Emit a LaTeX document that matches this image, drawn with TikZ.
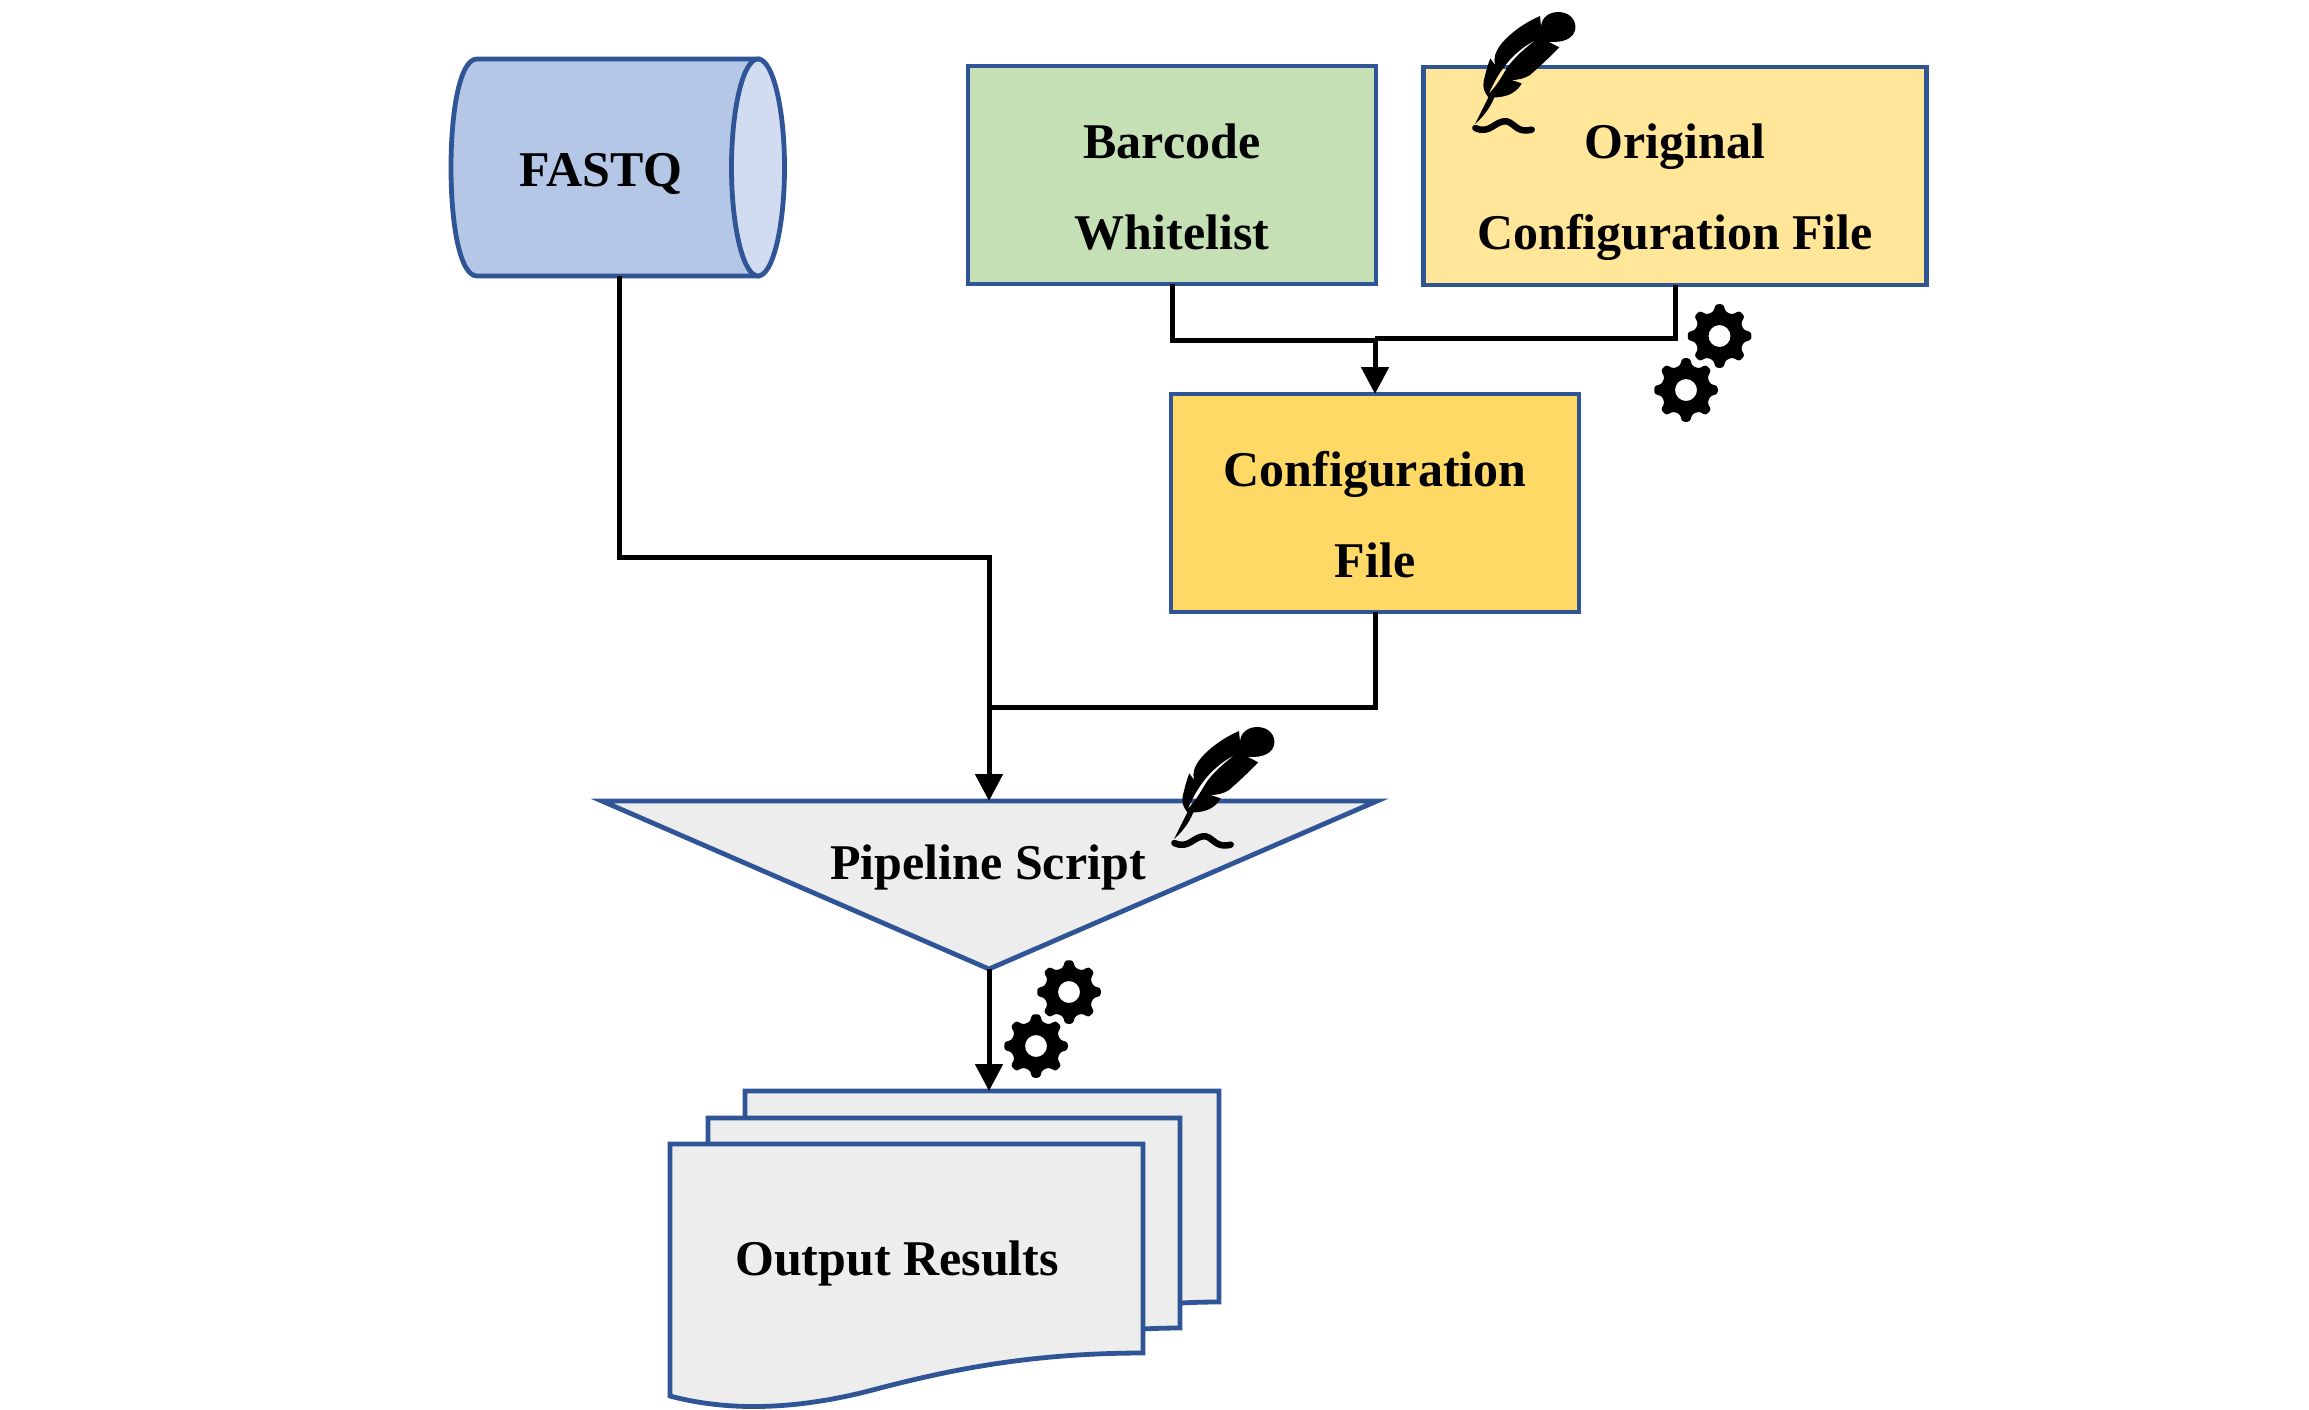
\documentclass[tikz,border=0pt]{standalone}
\usepackage{fontspec}
\setmainfont{Liberation Serif}
\usetikzlibrary{arrows.meta}
\definecolor{edgeblue}{HTML}{2F5597}
\definecolor{fastqfill}{HTML}{B4C7E7}
\definecolor{fastqend}{HTML}{D2DCF0}
\definecolor{greenfill}{HTML}{C5E0B4}
\definecolor{origfill}{HTML}{FFE699}
\definecolor{conffill}{HTML}{FFD966}
\definecolor{grayfill}{HTML}{EDEDED}
\tikzset{
  shapeline/.style={draw=edgeblue,line width=4.8pt,line join=miter},
  filebox/.style={shapeline,rectangle,minimum width=#1,minimum height=218pt,inner sep=0pt,outer sep=0pt},
  lbl/.style={font=\fontsize{50}{91}\selectfont\bfseries,align=center,inner sep=0pt,text=black},
  conn/.style={draw=black,line width=5pt,line join=miter},
  arrowconn/.style={conn,-{Triangle[length=27pt,width=27pt]}},
  pics/quill/.style={code={
    \begin{scope}[x=0.3333pt,y=-0.3333pt,shift={(-105,-372)}]
      \fill[black,even odd rule]
        (105,372) -- (145,292) -- (137,280) .. controls (128,265) and (128,250) .. (135,228)
        .. controls (140,205) and (145,190) .. (151,175) -- (165,195)
        .. controls (160,175) and (165,155) .. (185,130)
        .. controls (215,95) and (260,65) .. (300,48) -- (303,80)
        .. controls (305,50) and (330,35) .. (358,36)
        .. controls (390,38) and (408,60) .. (406,85)
        .. controls (403,112) and (375,130) .. (325,125) -- (358,142)
        .. controls (335,165) and (310,190) .. (270,225)
        .. controls (255,235) and (235,240) .. (215,240) -- (245,250)
        .. controls (235,270) and (210,292) .. (163,292)
        .. controls (150,325) and (128,352) .. (105,372) -- cycle
        (146,282) .. controls (165,240) and (200,165) .. (287,120)
        .. controls (250,148) and (215,180) .. (197,210) .. controls (180,240) and (165,262) .. (146,282) -- cycle;
      \draw[black,line width=6.5pt,line cap=round]
        (106,384) .. controls (150,405) and (165,360) .. (200,364)
        .. controls (225,370) and (230,400) .. (275,389);
    \end{scope}}},
  pics/gear/.style={code={
    \fill[black,even odd rule,rounded corners=2.5pt]
      (-14:25pt) -- (-7:32pt) -- (7:32pt) -- (14:25pt)
      \foreach \a in {45,90,...,315}{ -- (\a-14:25pt) -- (\a-7:32pt) -- (\a+7:32pt) -- (\a+14:25pt) } -- cycle
      (0,0) circle[radius=11pt];
  }}
}
\begin{document}
\begin{tikzpicture}[x=1pt,y=-1pt]
\useasboundingbox (0,0) rectangle (2309,1409);

% FASTQ cylinder
\path[shapeline,fill=fastqfill]
  (477,59) -- (758,59) -- (758,276) -- (477,276)
  .. controls (460,276) and (451,225) .. (451,167.5)
  .. controls (451,110) and (460,59) .. (477,59) -- cycle;
\path[shapeline,fill=fastqend] (758,167.5) ellipse[x radius=26.5,y radius=108.5];
\node[lbl] (fastq) at (601,174) {FASTQ};
\coordinate (fastqout) at (619,276);

% Rectangles
\node[filebox=408pt,fill=greenfill] (barcode) at (1172,175) {};
\node[lbl] (barcodetext) at (1172,187) {Barcode\\Whitelist};
\node[filebox=503pt,fill=origfill] (orig) at (1675,176) {};
\node[lbl] (origtext) at (1675,192.5) {Original\\Configuration File};
\node[filebox=408pt,fill=conffill] (conf) at (1375,503) {};
\node[lbl] (conftext) at (1375,515) {Configuration\\File};

% Pipeline triangle
\path[shapeline,fill=grayfill] (602,801) -- (1377,801) -- (989,969) -- cycle;
\node[lbl] (pipeline) at (988,867.5) {Pipeline Script};
\coordinate (pipetop) at (989,801);
\coordinate (pipebottom) at (989,969);

% Output documents
\path[shapeline,fill=grayfill] (745,1091) -- (1219,1091) -- (1219,1302) .. controls (1120,1302) and (1050,1320) .. (745,1390) -- cycle;
\path[shapeline,fill=grayfill] (708,1118) -- (1180,1118) -- (1180,1328) .. controls (1090,1328) and (1010,1345) .. (708,1395) -- cycle;
\path[shapeline,fill=grayfill] (670,1144) -- (1143,1144) -- (1143,1353)
  .. controls (1030,1353) and (950,1370) .. (880,1388)
  .. controls (800,1410) and (730,1412) .. (670,1396) -- cycle;
\node[lbl] (output) at (897,1263.5) {Output Results};
\coordinate (outtop) at (989,1091);

% Connectors
\path[conn] (barcode.south) |- (1375,340) coordinate (mergeleft);
\path[conn] (orig.south) |- (1375,338) coordinate (merge);
\path[arrowconn] (merge) -- (conf.north);
\path[conn] (conf.south) |- (989,707) coordinate (pipejoin);
\path[arrowconn] (fastqout) |- (989,557) -- (pipetop);
\path[arrowconn] (pipebottom) -- (outtop);

% Icons
\pic at (1475,124) {quill};
\pic at (1174,839) {quill};
\pic at (1719.5,336) {gear};
\pic at (1686,390) {gear};
\pic at (1069,992) {gear};
\pic at (1036,1046) {gear};
\end{tikzpicture}
\end{document}
